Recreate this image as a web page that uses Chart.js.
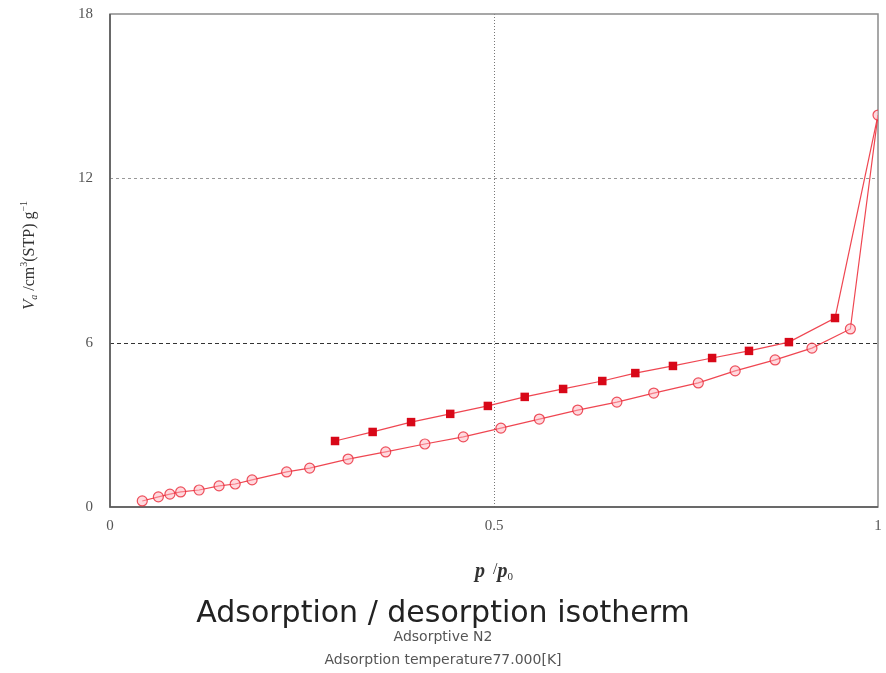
<!DOCTYPE html>
<html>
<head>
<meta charset="utf-8">
<script src="https://cdn.jsdelivr.net/npm/chart.js@4.4.1/dist/chart.umd.min.js"></script>
<style>
  html, body { margin: 0; padding: 0; background: #fff; }
  #wrap { width: 886px; height: 673px; }
</style>
</head>
<body>
<div id="wrap"><canvas id="c" width="886" height="673"></canvas></div>
<script>
// N2 isotherm at 77 K: relative pressure p/p0 and adsorbed volume Va (cm3(STP)/g)
const adsP = [0.042, 0.063, 0.078, 0.092, 0.116, 0.142, 0.163, 0.185, 0.230, 0.260,
              0.310, 0.359, 0.410, 0.460, 0.509, 0.559, 0.609, 0.660, 0.708, 0.766,
              0.814, 0.866, 0.914, 0.964, 1.000];
const adsV = [0.22, 0.37, 0.47, 0.55, 0.62, 0.77, 0.84, 0.99, 1.28, 1.42,
              1.75, 2.01, 2.30, 2.56, 2.88, 3.21, 3.54, 3.83, 4.16, 4.53,
              4.97, 5.37, 5.80, 6.50, 14.31];
// desorption branch starts from the last adsorption point
const desP = [1.000, 0.944, 0.884, 0.832, 0.784, 0.733, 0.684, 0.641, 0.590, 0.540,
              0.492, 0.443, 0.392, 0.342, 0.293];
const desV = [14.31, 6.90, 6.02, 5.70, 5.44, 5.15, 4.89, 4.60, 4.31, 4.02,
              3.69, 3.40, 3.10, 2.74, 2.41];

const xTicks = [0, 0.5, 1];
const yTicks = [0, 6, 12, 18];

const toXY = (xs, ys) => xs.map((x, i) => ({ x: x, y: ys[i] }));

const LINE = 'rgba(238,60,72,0.95)';

// reference lines and plot frame
const framePlugin = {
  id: 'frame',
  beforeDatasetsDraw(chart) {
    const { ctx, chartArea: a, scales: { x, y } } = chart;
    ctx.save();
    ctx.lineWidth = 1;
    // vertical dotted line at p/p0 = 0.5
    ctx.strokeStyle = '#777';
    ctx.setLineDash([1, 2]);
    let px = Math.round(x.getPixelForValue(0.5)) + 0.5;
    ctx.beginPath(); ctx.moveTo(px, a.top); ctx.lineTo(px, a.bottom); ctx.stroke();
    // horizontal dashed line at 12
    ctx.strokeStyle = '#999';
    ctx.setLineDash([3, 3]);
    let py = Math.round(y.getPixelForValue(12)) + 0.5;
    ctx.beginPath(); ctx.moveTo(a.left, py); ctx.lineTo(a.right, py); ctx.stroke();
    // horizontal dashed line at 6
    ctx.strokeStyle = '#333';
    ctx.setLineDash([4, 3]);
    py = Math.round(y.getPixelForValue(6)) + 0.5;
    ctx.beginPath(); ctx.moveTo(a.left, py); ctx.lineTo(a.right, py); ctx.stroke();
    ctx.setLineDash([]);
    // frame
    ctx.strokeStyle = '#8a8a8a';
    ctx.lineWidth = 1.5;
    ctx.strokeRect(a.left, a.top, a.right - a.left, a.bottom - a.top);
    ctx.strokeStyle = '#555';
    ctx.beginPath();
    ctx.moveTo(a.left, a.top); ctx.lineTo(a.left, a.bottom); ctx.lineTo(a.right, a.bottom);
    ctx.stroke();
    ctx.restore();
  }
};

// draws a run of text pieces [text, font, baselineShift]
function drawRuns(ctx, runs, cx, cy) {
  let total = 0;
  runs.forEach(r => { ctx.font = r[1]; total += ctx.measureText(r[0]).width; });
  let xx = cx - total / 2;
  runs.forEach(r => {
    ctx.font = r[1];
    ctx.fillText(r[0], xx, cy + r[2]);
    xx += ctx.measureText(r[0]).width;
  });
}

const textPlugin = {
  id: 'texts',
  afterDraw(chart) {
    const { ctx, chartArea: a, width } = chart;
    ctx.save();
    ctx.textBaseline = 'alphabetic';
    ctx.textAlign = 'left';
    ctx.fillStyle = '#333';
    // y axis title
    ctx.save();
    ctx.translate(34, (a.top + a.bottom) / 2 - 5);
    ctx.rotate(-Math.PI / 2);
    const s = '"Liberation Serif", serif';
    drawRuns(ctx, [
      ['V', 'italic 17px ' + s, 0],
      ['a', 'italic 10px ' + s, 3],
      [' /cm', '16px ' + s, 0],
      ['3', '10px ' + s, -7],
      ['(STP) g', '16px ' + s, 0],
      ['\u22121', '10px ' + s, -7]
    ], 0, 0);
    ctx.restore();
    // x axis title
    const cx = (a.left + a.right) / 2;
    drawRuns(ctx, [
      ['p', 'italic bold 20px ' + s, 0],
      ['  /', '16px ' + s, -3],
      ['p', 'italic bold 20px ' + s, 0],
      ['0', '11px ' + s, 3]
    ], cx, 577);
    // chart titles
    ctx.textAlign = 'center';
    ctx.fillStyle = '#222';
    ctx.font = '30px "DejaVu Sans", sans-serif';
    ctx.fillText('Adsorption / desorption isotherm', width / 2, 622);
    ctx.fillStyle = '#555';
    ctx.font = '14px "DejaVu Sans", sans-serif';
    ctx.fillText('Adsorptive N2', width / 2, 641);
    ctx.fillText('Adsorption temperature77.000[K]', width / 2, 664);
    ctx.restore();
  }
};

new Chart(document.getElementById('c'), {
  type: 'scatter',
  data: {
    datasets: [
      {
        label: 'Adsorption',
        data: toXY(adsP, adsV),
        showLine: true,
        borderColor: LINE,
        borderWidth: 1.2,
        pointStyle: 'circle',
        pointRadius: 5,
        pointBorderWidth: 1.2,
        pointBorderColor: 'rgba(232,40,55,0.8)',
        pointBackgroundColor: 'rgba(255,180,190,0.5)',
        tension: 0
      },
      {
        label: 'Desorption',
        data: toXY(desP, desV),
        showLine: true,
        borderColor: LINE,
        borderWidth: 1.2,
        pointStyle: 'rect',
        pointRadius: ctx => ctx.dataIndex === 0 ? 0 : 6,
        pointBorderWidth: 0,
        pointBackgroundColor: '#d80818',
        tension: 0
      }
    ]
  },
  options: {
    responsive: false,
    animation: false,
    events: [],
    layout: { padding: { top: 14, right: 8, bottom: 136, left: 0 } },
    plugins: { legend: { display: false }, tooltip: { enabled: false }, title: { display: false } },
    scales: {
      x: {
        type: 'linear', min: 0, max: 1,
        afterBuildTicks: sc => { sc.ticks = xTicks.map(v => ({ value: v })); },
        afterFit: sc => { sc.height = 30; sc.paddingLeft = 0; sc.paddingRight = 0; },
        grid: { display: false, drawTicks: false },
        border: { display: false },
        ticks: {
          padding: 10,
          color: '#555',
          font: { family: '"Liberation Serif", serif', size: 15 },
          callback: v => String(v)
        }
      },
      y: {
        type: 'linear', min: 0, max: 18,
        afterBuildTicks: sc => { sc.ticks = yTicks.map(v => ({ value: v })); },
        afterFit: sc => { sc.width = 110; sc.paddingTop = 0; sc.paddingBottom = 0; },
        grid: { display: false, drawTicks: false },
        border: { display: false },
        ticks: {
          padding: 17,
          color: '#555',
          font: { family: '"Liberation Serif", serif', size: 15 },
          callback: v => String(v)
        }
      }
    }
  },
  plugins: [framePlugin, textPlugin]
});
</script>
</body>
</html>
